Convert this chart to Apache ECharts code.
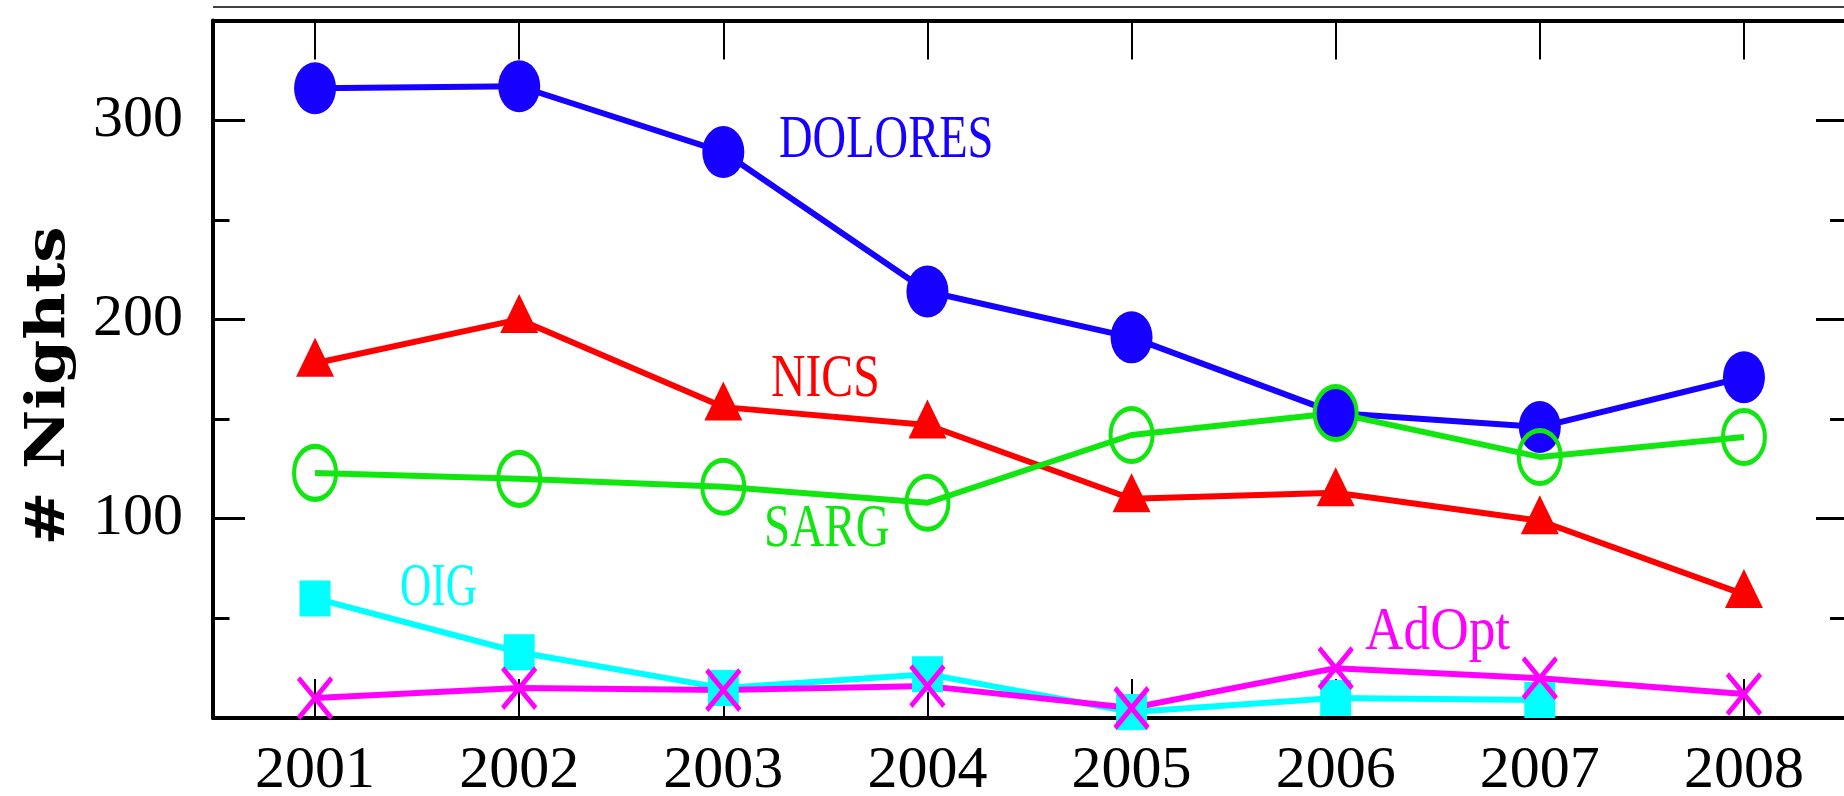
<!DOCTYPE html>
<html>
<head>
<meta charset="utf-8">
<script src="https://cdn.jsdelivr.net/npm/echarts@6/dist/echarts.min.js"></script>
<style>
html,body{margin:0;padding:0;background:#fff;}
#c{width:1844px;height:796px;}
</style>
</head>
<body>
<div id="c"></div>
<script>
const years = ['2001','2002','2003','2004','2005','2006','2007','2008'];
const dolores = [316, 317, 284, 214, 191, 153, 146, 171];
const nics    = [178, 200, 156, 147, 110, 113, 99, 62];
const sarg    = [123, 120, 116, 108, 142, 153, 131, 141];
const oig     = [60, 33, 15, 22, 3, 10, 9, null];
const adopt   = [10, 15, 14, 16, 5, 25, 20, 12];
const yLabels = ['100','200','300'];
const seriesNames = ['DOLORES','NICS','SARG','OIG','AdOpt'];

const C = {blue:'#1600ff', red:'#ff0000', green:'#11e611', cyan:'#00ffff', mag:'#ff00ff'};
const G = {left:213, top:20.5, width:1633, height:697.5};
const labelFont = '"Liberation Serif", "Times New Roman", serif';
const LW = 6;

const chart = echarts.init(document.getElementById('c'), null, {renderer:'canvas'});

function yAx(pos, interval, len, showLine, showLabel){
  return {
    type:'value', position:pos, min:0, max:350, interval:interval,
    axisLine:{show:showLine, onZero:false, lineStyle:{color:'#000', width:4}},
    axisTick:{show:true, inside:true, length:len, lineStyle:{color:'#000', width:3}},
    splitLine:{show:false},
    axisLabel:{show:showLabel, showMinLabel:false, showMaxLabel:false, margin:30,
      fontFamily:labelFont, fontSize:60, color:'#000',
      formatter:function(v){ return yLabels.indexOf(String(v))>=0 ? String(v) : ''; }}
  };
}
function xAx(pos, showLabel){
  return {
    type:'category', position:pos, data:years, boundaryGap:true,
    axisLine:{show:true, onZero:false, lineStyle:{color:'#000', width:4}},
    axisTick:{show:true, inside:true, alignWithLabel:true, length:39, lineStyle:{color:'#000', width:2}},
    splitLine:{show:false},
    axisLabel:{show:showLabel, margin:23, fontFamily:labelFont, fontSize:60, color:'#000'}
  };
}

const base = {type:'line', xAxisIndex:0, yAxisIndex:0, silent:true, animation:false,
  emphasis:{disabled:true}, clip:false};

function lbl(text, x, y, sx, color){
  return {type:'text', x:x, y:y, scaleX:sx, silent:true, z:100,
    style:{text:text, x:0, y:0, fill:color, font:'62px ' + labelFont,
      align:'left', verticalAlign:'middle', textAlign:'left', textVerticalAlign:'middle'}};
}

chart.setOption({
  animation:false,
  backgroundColor:'#fff',
  grid:{left:G.left, top:G.top, width:G.width, height:G.height, containLabel:false, outerBoundsMode:'none'},
  xAxis:[xAx('bottom', true), xAx('top', false)],
  yAxis:[
    yAx('left', 100, 32, true, true),
    yAx('left', 50, 16.5, false, false),
    yAx('right', 100, 30, true, false),
    yAx('right', 50, 16, false, false)
  ],
  series:[
    Object.assign({}, base, {name:seriesNames[0], data:dolores, symbol:'circle', symbolSize:[42,52],
      itemStyle:{color:C.blue}, lineStyle:{color:C.blue, width:LW}}),
    Object.assign({}, base, {name:seriesNames[1], data:nics, symbol:'triangle', symbolSize:[38,39], symbolOffset:[0,-6],
      itemStyle:{color:C.red}, lineStyle:{color:C.red, width:LW}}),
    Object.assign({}, base, {name:seriesNames[2], data:sarg, symbol:'circle', symbolSize:[42,53],
      itemStyle:{color:'rgba(0,0,0,0)', borderColor:C.green, borderWidth:4.5}, lineStyle:{color:C.green, width:LW}}),
    Object.assign({}, base, {name:seriesNames[3], data:oig, symbol:'rect', symbolSize:[31,36], connectNulls:false,
      itemStyle:{color:C.cyan}, lineStyle:{color:C.cyan, width:LW}}),
    Object.assign({}, base, {name:seriesNames[4], data:adopt, symbol:'path://M0,0L10,12M10,0L0,12', symbolSize:[33,40],
      itemStyle:{color:C.mag, borderColor:C.mag, borderWidth:5}, lineStyle:{color:C.mag, width:LW}})
  ],
  graphic:[
    {type:'line', silent:true, shape:{x1:G.left, y1:7, x2:1844, y2:7}, style:{stroke:'#000', lineWidth:1.5}},
    {type:'text', x:50, y:386, rotation:Math.PI/2, scaleX:1.2, silent:true,
      style:{text:'# Nights', x:0, y:0, fill:'#000', font:'bold 54px "DejaVu Serif", serif',
        align:'center', verticalAlign:'middle', textAlign:'center', textVerticalAlign:'middle'}},
    lbl('DOLORES', 779, 141, 0.75, C.blue),
    lbl('NICS', 771, 380, 0.77, C.red),
    lbl('SARG', 764, 530, 0.76, C.green),
    lbl('OIG', 400, 589, 0.70, C.cyan),
    lbl('AdOpt', 1365, 633, 0.86, C.mag)
  ]
});
</script>
</body>
</html>
